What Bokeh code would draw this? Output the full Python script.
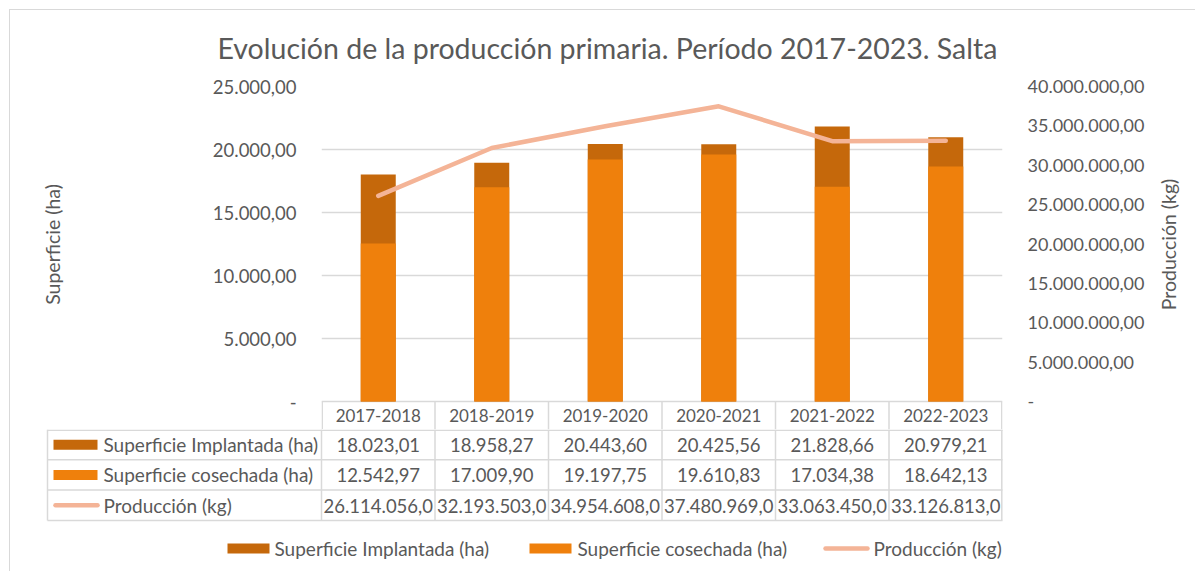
import math
from bokeh.plotting import figure
from bokeh.models import Range1d, FactorRange, LinearAxis, FixedTicker
from bokeh.layouts import column, row
from bokeh.embed import file_html
from bokeh.resources import INLINE
from bokeh.core.properties import value

# ---------------- data ----------------
campaigns = ["2017-2018", "2018-2019", "2019-2020", "2020-2021", "2021-2022", "2022-2023"]
sup_implantada = [18023.01, 18958.27, 20443.60, 20425.56, 21828.66, 20979.21]
sup_cosechada = [12542.97, 17009.90, 19197.75, 19610.83, 17034.38, 18642.13]
produccion = [26114056.0, 32193503.0, 34954608.0, 37480969.0, 33063450.0, 33126813.0]
series_names = ["Superficie Implantada (ha)", "Superficie cosechada (ha)", "Producción (kg)"]
left_ticks = [0, 5000, 10000, 15000, 20000, 25000]
right_ticks = [0, 5000000, 10000000, 15000000, 20000000, 25000000, 30000000, 35000000, 40000000]
title_text = "Evolución de la producción primaria. Período 2017-2023. Salta"
left_title = "Superficie (ha)"
right_title = "Producción (kg)"


def es_num(v, dec):
    s = f"{v:,.{dec}f}"
    return s.replace(",", "§").replace(".", ",").replace("§", ".")


# ---------------- style / layout ----------------
DARK = "#C5680B"
ORANGE = "#EF800C"
LINE = "#F4B497"
TXT = "#595959"
GRID = "#D9D9D9"
FONT = "Lato"

W = 1195
LEFT_W = 70          # strip holding the left axis title
RIGHT_W = 45         # strip holding the right axis title
MAIN_W = W - LEFT_W - RIGHT_W
TOP_H = 429
BOT_H = 142
FRAME_L = 321        # page x of plot area left edge
FRAME_R = 1002
FRAME_T = 86
ZERO_Y = 401
n = len(campaigns)
cell = (FRAME_R - FRAME_L) / n
plot_px = ZERO_Y - FRAME_T
head_px = TOP_H - ZERO_Y
yl_max = left_ticks[-1]
yr_max = right_ticks[-1]
yl_start = -head_px / plot_px * yl_max
yr_start = -head_px / plot_px * yr_max

NOFILL = dict(outline_line_color=None, background_fill_color=None, border_fill_color=None)

# ---------------- main chart ----------------
p = figure(width=MAIN_W, height=TOP_H,
           x_range=FactorRange(factors=campaigns, range_padding=0, factor_padding=0),
           y_range=Range1d(yl_start, yl_max),
           x_axis_location=None,
           output_backend="svg", toolbar_location=None,
           min_border_left=FRAME_L - LEFT_W, min_border_right=LEFT_W + MAIN_W - FRAME_R,
           min_border_top=FRAME_T, min_border_bottom=0, **NOFILL)

p.title.text = title_text
p.title.align = "left"
p.title.offset = 217 - FRAME_L
p.title.text_font = FONT
p.title.text_font_size = "28.5px"
p.title.text_font_style = "normal"
p.title.text_color = TXT
p.title.standoff = 43

p.extra_y_ranges = {"prod": Range1d(yr_start, yr_max)}

ya = p.yaxis[0]
ya.ticker = FixedTicker(ticks=left_ticks)
ya.major_label_overrides = {t: (es_num(t, 2) if t else "-") for t in left_ticks}
ya.axis_line_color = None
ya.major_tick_line_color = None
ya.minor_tick_line_color = None
ya.major_label_standoff = 19
ya.major_label_text_font = FONT
ya.major_label_text_font_size = "18.5px"
ya.major_label_text_color = TXT

yr = LinearAxis(y_range_name="prod", ticker=FixedTicker(ticks=right_ticks))
yr.major_label_overrides = {t: (es_num(t, 2) if t else "-") for t in right_ticks}
yr.axis_line_color = None
yr.major_tick_line_color = None
yr.minor_tick_line_color = None
yr.major_label_standoff = 19
yr.major_label_text_font = FONT
yr.major_label_text_font_size = "18px"
yr.major_label_text_color = TXT
p.add_layout(yr, "right")

p.ygrid.ticker = FixedTicker(ticks=left_ticks)
p.ygrid.grid_line_color = GRID
p.ygrid.grid_line_width = 1.3
p.xgrid.visible = False

BAR_W = 35 / cell
p.vbar(x=campaigns, top=sup_implantada, width=BAR_W, fill_color=DARK, line_color=None)
p.vbar(x=campaigns, top=sup_cosechada, width=BAR_W, fill_color=ORANGE, line_color=None)
p.line(x=campaigns, y=produccion, y_range_name="prod", line_color=LINE, line_width=4.5,
       line_cap="round", line_join="round")

# header row of the data table (inside the frame, below zero)
p.text(x=campaigns, y=[yl_start / 2] * n, text=campaigns, text_align="center",
       text_baseline="middle", text_font=value(FONT), text_font_size="17px", text_color=TXT)
edge = 0.7 / cell
bx = [edge] + [float(k) for k in range(1, n)] + [n - edge]
p.segment(x0=bx, y0=[0] * len(bx), x1=bx, y1=[yl_start] * len(bx),
          line_color=GRID, line_width=1.5)


# ---------------- axis-title strips ----------------
def title_strip(width, x0, txt):
    s = figure(width=width, height=TOP_H, x_range=Range1d(x0, x0 + width), y_range=Range1d(TOP_H, 0),
               x_axis_location=None, y_axis_location=None, min_border=0,
               min_border_left=0, min_border_right=0, min_border_top=0, min_border_bottom=0,
               output_backend="svg", toolbar_location=None, **NOFILL)
    s.grid.visible = False
    return s


lt = title_strip(LEFT_W, 0, left_title)
lt.text(x=[52], y=[244], text=[left_title], angle=math.pi / 2, text_align="center",
        text_baseline="middle", text_font=value(FONT), text_font_size="19.5px", text_color=TXT)
rt = title_strip(RIGHT_W, LEFT_W + MAIN_W, right_title)
rt.text(x=[1168], y=[244], text=[right_title], angle=math.pi / 2, text_align="center",
        text_baseline="middle", text_font=value(FONT), text_font_size="19.5px", text_color=TXT)

# ---------------- data table + legend ----------------
q = figure(width=W, height=BOT_H,
           x_range=Range1d(-FRAME_L / cell, (W - FRAME_L) / cell),
           y_range=Range1d(BOT_H, 0),
           x_axis_location=None, y_axis_location=None, min_border=0,
           min_border_left=0, min_border_right=0, min_border_top=0, min_border_bottom=0,
           output_backend="svg", toolbar_location=None, **NOFILL)
q.grid.visible = False

for fig in (p, q, lt, rt):
    if "frame_align" in fig.properties():
        fig.frame_align = False


def u(px):
    return (px - FRAME_L) / cell


ROW_H = 30.3
TL = u(47)
row_edges = [0.75, ROW_H, 2 * ROW_H, 3 * ROW_H]
q.segment(x0=[TL] * 4, y0=row_edges, x1=[n] * 4, y1=row_edges, line_color=GRID, line_width=1.5)
vx = [TL] + [float(k) for k in range(0, n)] + [n - edge]
q.segment(x0=vx, y0=[0] * len(vx), x1=vx, y1=[3 * ROW_H] * len(vx), line_color=GRID, line_width=1.5)

table_rows = [
    [es_num(v, 2) for v in sup_implantada],
    [es_num(v, 2) for v in sup_cosechada],
    [es_num(v, 1) for v in produccion],
]
for r, vals in enumerate(table_rows):
    q.text(x=[k + 0.5 for k in range(n)], y=[r * ROW_H + ROW_H / 2 + 0.5] * n, text=vals,
           text_align="center", text_baseline="middle", text_font=value(FONT),
           text_font_size="18.5px", text_color=TXT)

row_y = [r * ROW_H + ROW_H / 2 for r in range(3)]
q.text(x=[u(103)] * 3, y=row_y, text=series_names, text_align="left", text_baseline="middle",
       text_font=value(FONT), text_font_size="19px", text_color=TXT)
q.rect(x=[u(75)] * 2, y=row_y[:2], width=44 / cell, height=10, fill_color=[DARK, ORANGE], line_color=None)
q.segment(x0=[u(55)], y0=[row_y[2]], x1=[u(97)], y1=[row_y[2]], line_color=LINE, line_width=4.5,
          line_cap="round")

LEG_Y = 119
q.rect(x=[u(248), u(550)], y=[LEG_Y, LEG_Y], width=42 / cell, height=10,
       fill_color=[DARK, ORANGE], line_color=None)
q.segment(x0=[u(825)], y0=[LEG_Y], x1=[u(867)], y1=[LEG_Y], line_color=LINE, line_width=4.5,
          line_cap="round")
q.text(x=[u(274), u(577), u(873)], y=[LEG_Y] * 3, text=series_names, text_align="left",
       text_baseline="middle", text_font=value(FONT), text_font_size="19px", text_color=TXT)

border_css = {"box-shadow": "inset 9px 9px 0 0 #FFFFFF, inset 10px 10px 0 0 #D9D9D9"}
root = column(row(lt, p, rt, spacing=0), q, spacing=0, styles=border_css)
open("out.html", "w").write(file_html(root, INLINE))
